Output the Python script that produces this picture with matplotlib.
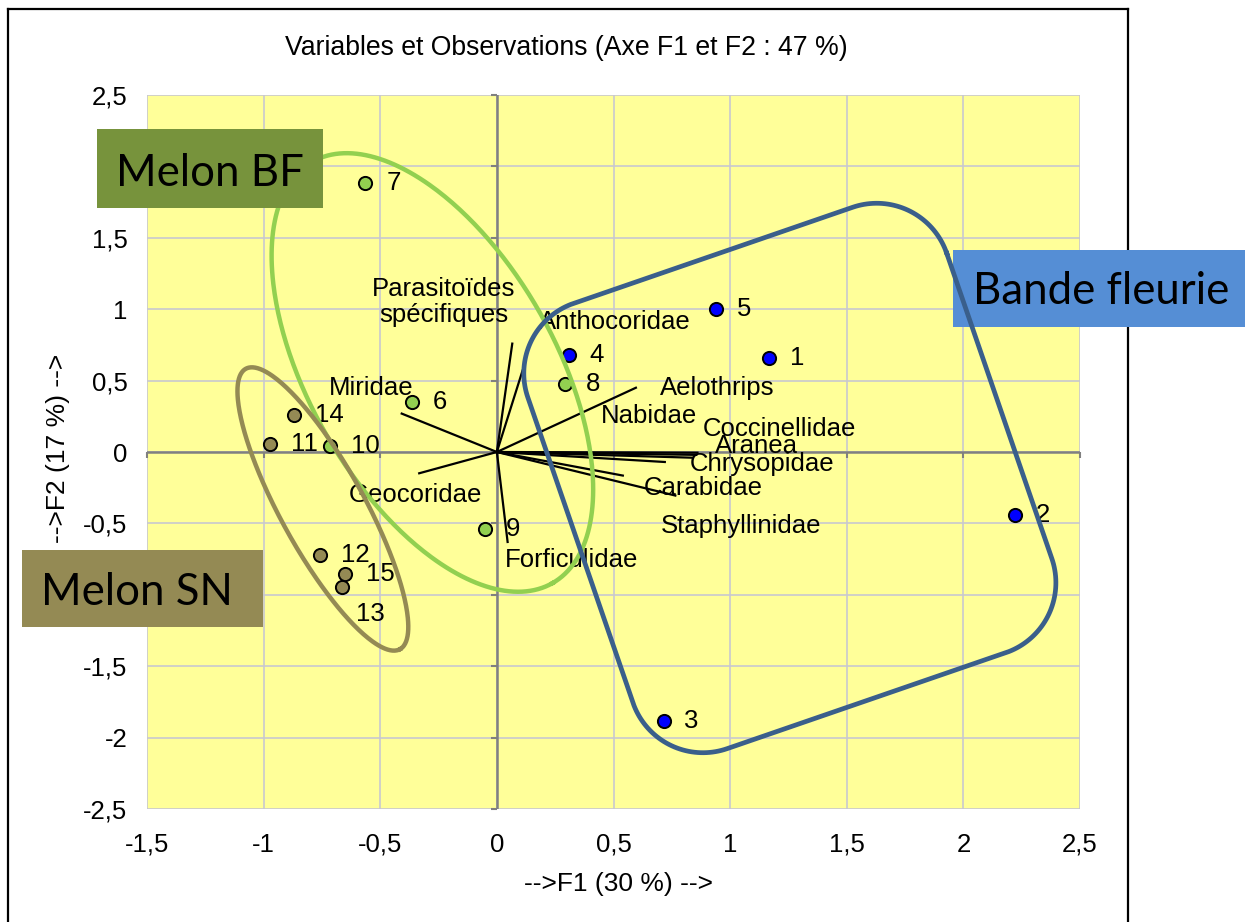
import numpy as np
import matplotlib.pyplot as plt
from matplotlib.patches import Rectangle
from matplotlib.lines import Line2D
from matplotlib.markers import TICKDOWN, TICKLEFT

plt.rcParams['font.family'] = ['Liberation Sans', 'DejaVu Sans']

# --- données ---
# observations (coordonnées F1 / F2)
obs_names = ['1', '2', '3', '4', '5', '6', '7', '8', '9', '10', '11', '12', '13', '14', '15']
obs_f1 = [1.167, 2.222, 0.715, 0.309, 0.940, -0.363, -0.564, 0.294, -0.051, -0.716,
          -0.973, -0.759, -0.664, -0.870, -0.652]
obs_f2 = [0.661, -0.440, -1.883, 0.682, 0.998, 0.352, 1.886, 0.475, -0.541, 0.042,
          0.056, -0.721, -0.945, 0.259, -0.854]
obs_group = ['BF'] * 5 + ['MBF'] * 5 + ['MSN'] * 5

# variables (extrémités des vecteurs)
var_names = ['Parasitoïdes\nspécifiques', 'Anthocoridae', 'Miridae', 'Geocoridae',
             'Forficulidae', 'Aelothrips', 'Nabidae', 'Coccinellidae', 'Aranea',
             'Chrysopidae', 'Carabidae', 'Staphyllinidae']
var_f1 = [0.066, 0.110, -0.408, -0.333, 0.046, 0.596, 0.720, 0.860, 0.855, 0.840, 0.765, 0.540]
var_f2 = [0.759, 0.570, 0.269, -0.149, -0.630, 0.450, -0.070, -0.005, -0.020, -0.040, -0.305, -0.165]

ticks = [-1.5, -1, -0.5, 0, 0.5, 1, 1.5, 2, 2.5]
xtick_labels = ['-1,5', '-1', '-0,5', '0', '0,5', '1', '1,5', '2', '2,5']
yticks = [-2.5, -2, -1.5, -1, -0.5, 0, 0.5, 1, 1.5, 2, 2.5]
ytick_labels = ['-2,5', '-2', '-1,5', '-1', '-0,5', '0', '0,5', '1', '1,5', '2', '2,5']

# --- mise en page (positions des étiquettes, en données) ---
var_label_pos = [(-0.227, 1.050), (0.506, 0.912), (-0.538, 0.446), (-0.347, -0.299),
                 (0.321, -0.756), (0.944, 0.450), (0.654, 0.254), (1.212, 0.163),
                 (1.114, 0.040), (1.136, -0.084), (0.886, -0.252), (1.047, -0.516)]
obs_label_offset = [(15, 0)] * 15
obs_label_offset[12] = (10, -19.5)

colors = {'BF': '#0000FF', 'MBF': '#92D050', 'MSN': '#948A54'}

W, H = 1245, 922
fig = plt.figure(figsize=(W / 100, H / 100), dpi=100)
ax = fig.add_axes([147 / W, 113 / H, 933 / W, 714 / H])
ax.set_facecolor('#FFFF99')
ax.set_xlim(-1.5, 2.5)
ax.set_ylim(-2.5, 2.5)
for s in ax.spines.values():
    s.set_visible(False)
ax.set_xticks(ticks)
ax.set_xticklabels(xtick_labels)
ax.set_yticks(yticks)
ax.set_yticklabels(ytick_labels)
ax.tick_params(length=0, labelsize=18.5)
ax.tick_params(axis='y', pad=14)
ax.tick_params(axis='x', pad=17)
ax.grid(True, color='#C8C8D0', lw=1.2, zorder=0.5)
ax.set_axisbelow(True)

# axes passant par l'origine
ax.axhline(0, color='#808080', lw=1.8, zorder=1)
ax.axvline(0, color='#808080', lw=1.8, zorder=1)
ax.plot(ticks, [0] * len(ticks), ls='none', marker=TICKDOWN, ms=4, mew=1.5,
        color='#808080', zorder=1, clip_on=False)
ax.plot([0] * len(yticks), yticks, ls='none', marker=TICKLEFT, ms=4, mew=1.5,
        color='#808080', zorder=1, clip_on=False)

# vecteurs
for x, y in zip(var_f1, var_f2):
    ax.plot([0, x], [0, y], color='black', lw=1.6, zorder=2)
for name, (lx, ly) in zip(var_names, var_label_pos):
    ax.text(lx, ly, name, ha='center', va='center', fontsize=18.5,
            multialignment='center', linespacing=1.1, zorder=4)

# observations
for x, y, g in zip(obs_f1, obs_f2, obs_group):
    ax.plot(x, y, 'o', ms=9.5, mfc=colors[g], mec='black', mew=1.4, zorder=3)
for name, x, y, off in zip(obs_names, obs_f1, obs_f2, obs_label_offset):
    ax.annotate(name, (x, y), xytext=off, textcoords='offset points',
                ha='left', va='center', fontsize=18.5, zorder=4)

# échelles pixels -> données pour les contours dessinés
pos = ax.get_position()
kx = pos.width * W / 4.0
ky = pos.height * H / 5.0


def ellipse(cx, cy, a, b, ang):
    t = np.linspace(0, 2 * np.pi, 400)
    c, s = np.cos(np.radians(ang)), np.sin(np.radians(ang))
    px = a * np.cos(t) * c - b * np.sin(t) * s
    py = a * np.cos(t) * s + b * np.sin(t) * c
    return cx + px / kx, cy + py / ky


def rounded_rect(cx, cy, w, h, r, ang):
    pts = []
    for ox, oy, a0 in [(w / 2 - r, h / 2 - r, 0), (-w / 2 + r, h / 2 - r, 90),
                       (-w / 2 + r, -h / 2 + r, 180), (w / 2 - r, -h / 2 + r, 270)]:
        t = np.radians(np.linspace(a0, a0 + 90, 40))
        pts.append(np.column_stack([ox + r * np.cos(t), oy + r * np.sin(t)]))
    pts = np.vstack(pts + [pts[0][:1]])
    c, s = np.cos(np.radians(ang)), np.sin(np.radians(ang))
    px = pts[:, 0] * c - pts[:, 1] * s
    py = pts[:, 0] * s + pts[:, 1] * c
    return cx + px / kx, cy + py / ky


ex, ey = ellipse(-0.2765, 0.557, 242.5, 123, -60.3)
ax.plot(ex, ey, color='#92D050', lw=3.2, zorder=5, clip_on=False)
ex, ey = ellipse(-0.746, -0.399, 160, 42, -61.2)
ax.plot(ex, ey, color='#948A54', lw=3.2, zorder=5, clip_on=False)
rx, ry = rounded_rect(1.256, -0.182, 443, 471, 74, 19)
ax.plot(rx, ry, color='#3A5F8B', lw=3.4, zorder=5, clip_on=False)


# étiquettes de groupes
def group_box(x0, y0, x1, y1, color, text, tx, tbase, z):
    ax.add_patch(Rectangle((x0 / W, 1 - y1 / H), (x1 - x0) / W, (y1 - y0) / H,
                           transform=fig.transFigure, facecolor=color,
                           edgecolor='none', clip_on=False, zorder=z))
    ax.text(tx / W, 1 - tbase / H, text, transform=fig.transFigure, ha='center',
            va='baseline', fontsize=31.5, family='Lato', zorder=z + 0.1, clip_on=False)


group_box(97, 129, 323, 208, '#77933C', 'Melon BF', 210, 186, 6)
group_box(953, 250, 1250, 327, '#558ED5', 'Bande fleurie', 1101.5, 304, 4.5)
group_box(22, 550, 263, 627, '#948A54', 'Melon SN', 136.7, 605, 6)

# cadre
for xs, ys in [((8, 1128), (9, 9)), ((8, 8), (9, H + 5)), ((1128, 1128), (9, H + 5))]:
    fig.add_artist(Line2D([x / W for x in xs], [1 - y / H for y in ys], color='black',
                          lw=1.6, transform=fig.transFigure, zorder=-1))

fig.text(566 / W, 1 - 48 / H, 'Variables et Observations (Axe F1 et F2 : 47 %)',
         ha='center', va='center', fontsize=19.2)
fig.text(618 / W, 1 - 884 / H, '-->F1 (30 %) -->', ha='center', va='center', fontsize=19)
fig.text(58 / W, 1 - 448 / H, '-->F2 (17 %) -->', ha='center', va='center',
         rotation=90, fontsize=19)

fig.savefig('out.png', dpi=100)
